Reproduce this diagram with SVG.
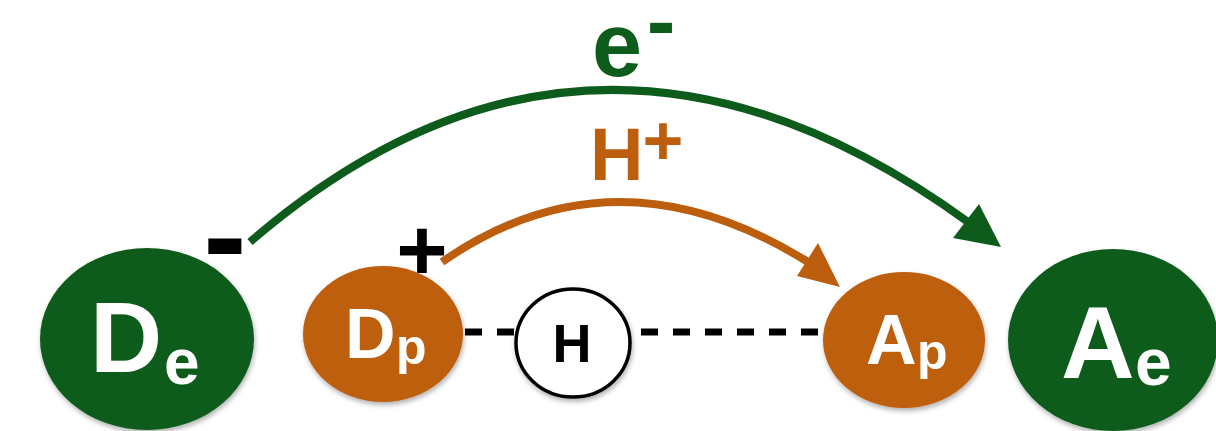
<svg xmlns="http://www.w3.org/2000/svg" width="1216" height="431" viewBox="0 0 1216 431">
<defs>
<filter id="sh" x="-20%" y="-20%" width="140%" height="150%">
<feDropShadow dx="1" dy="3" stdDeviation="2.5" flood-color="#000" flood-opacity="0.3"/>
</filter>
<style>
.t{font-family:"Liberation Sans",Arial,sans-serif;font-weight:bold}
.w{fill:#fff}
.g{fill:#0E5C1B}
.o{fill:#BD5E0F}
.k{fill:#000}
.dash{stroke:#000;stroke-width:7;stroke-dasharray:17 15;fill:none}
</style>
</defs>
<g id="connectors">
<path d="M465 332 H515" class="dash"/>
<path d="M641 332 H823" class="dash"/>
<path d="M250 242 Q591 -52 968 222" fill="none" stroke="#0E5C1B" stroke-width="8"/>
<polygon points="953,238 979,204 1001,247" class="g"/>
<path d="M442 262 Q615 142 808 262" fill="none" stroke="#BD5E0F" stroke-width="8"/>
<polygon points="797,276 818,243 840,287" class="o"/>
</g>
<g id="label-e">
<text class="t g"><tspan x="592" y="76" font-size="90">e</tspan><tspan x="661" y="50" font-size="86" text-anchor="middle">-</tspan></text>
</g>
<g id="label-H">
<text class="t o"><tspan x="590" y="180" font-size="74">H</tspan><tspan x="663" y="165" font-size="70" text-anchor="middle">+</tspan></text>
</g>
<g id="minus">
<text class="t k" x="225" y="280" font-size="130" text-anchor="middle">-</text>
</g>
<g id="plus">
<text class="t k" x="422" y="280" font-size="88" text-anchor="middle">+</text>
</g>
<g id="De">
<ellipse cx="147" cy="339" rx="107" ry="91" class="g" filter="url(#sh)"/>
<text class="t w"><tspan x="90" y="372" font-size="100">D</tspan><tspan x="164" y="384" font-size="64">e</tspan></text>
</g>
<g id="Dp">
<ellipse cx="383" cy="334" rx="80" ry="68" class="o" filter="url(#sh)"/>
<text class="t w"><tspan x="345" y="358" font-size="70">D</tspan><tspan x="396" y="364" font-size="50">p</tspan></text>
</g>
<g id="H">
<ellipse cx="573" cy="343" rx="57" ry="54" fill="#fff" stroke="#000" stroke-width="3.5" filter="url(#sh)"/>
<text class="t k" x="572" y="362" font-size="54" text-anchor="middle">H</text>
</g>
<g id="Ap">
<ellipse cx="904" cy="340" rx="81" ry="68" class="o" filter="url(#sh)"/>
<text class="t w"><tspan x="866" y="364" font-size="70">A</tspan><tspan x="917" y="369" font-size="50">p</tspan></text>
</g>
<g id="Ae">
<ellipse cx="1113" cy="340" rx="105" ry="91" class="g" filter="url(#sh)"/>
<text class="t w"><tspan x="1061" y="378" font-size="102">A</tspan><tspan x="1135" y="385" font-size="66">e</tspan></text>
</g>
</svg>
